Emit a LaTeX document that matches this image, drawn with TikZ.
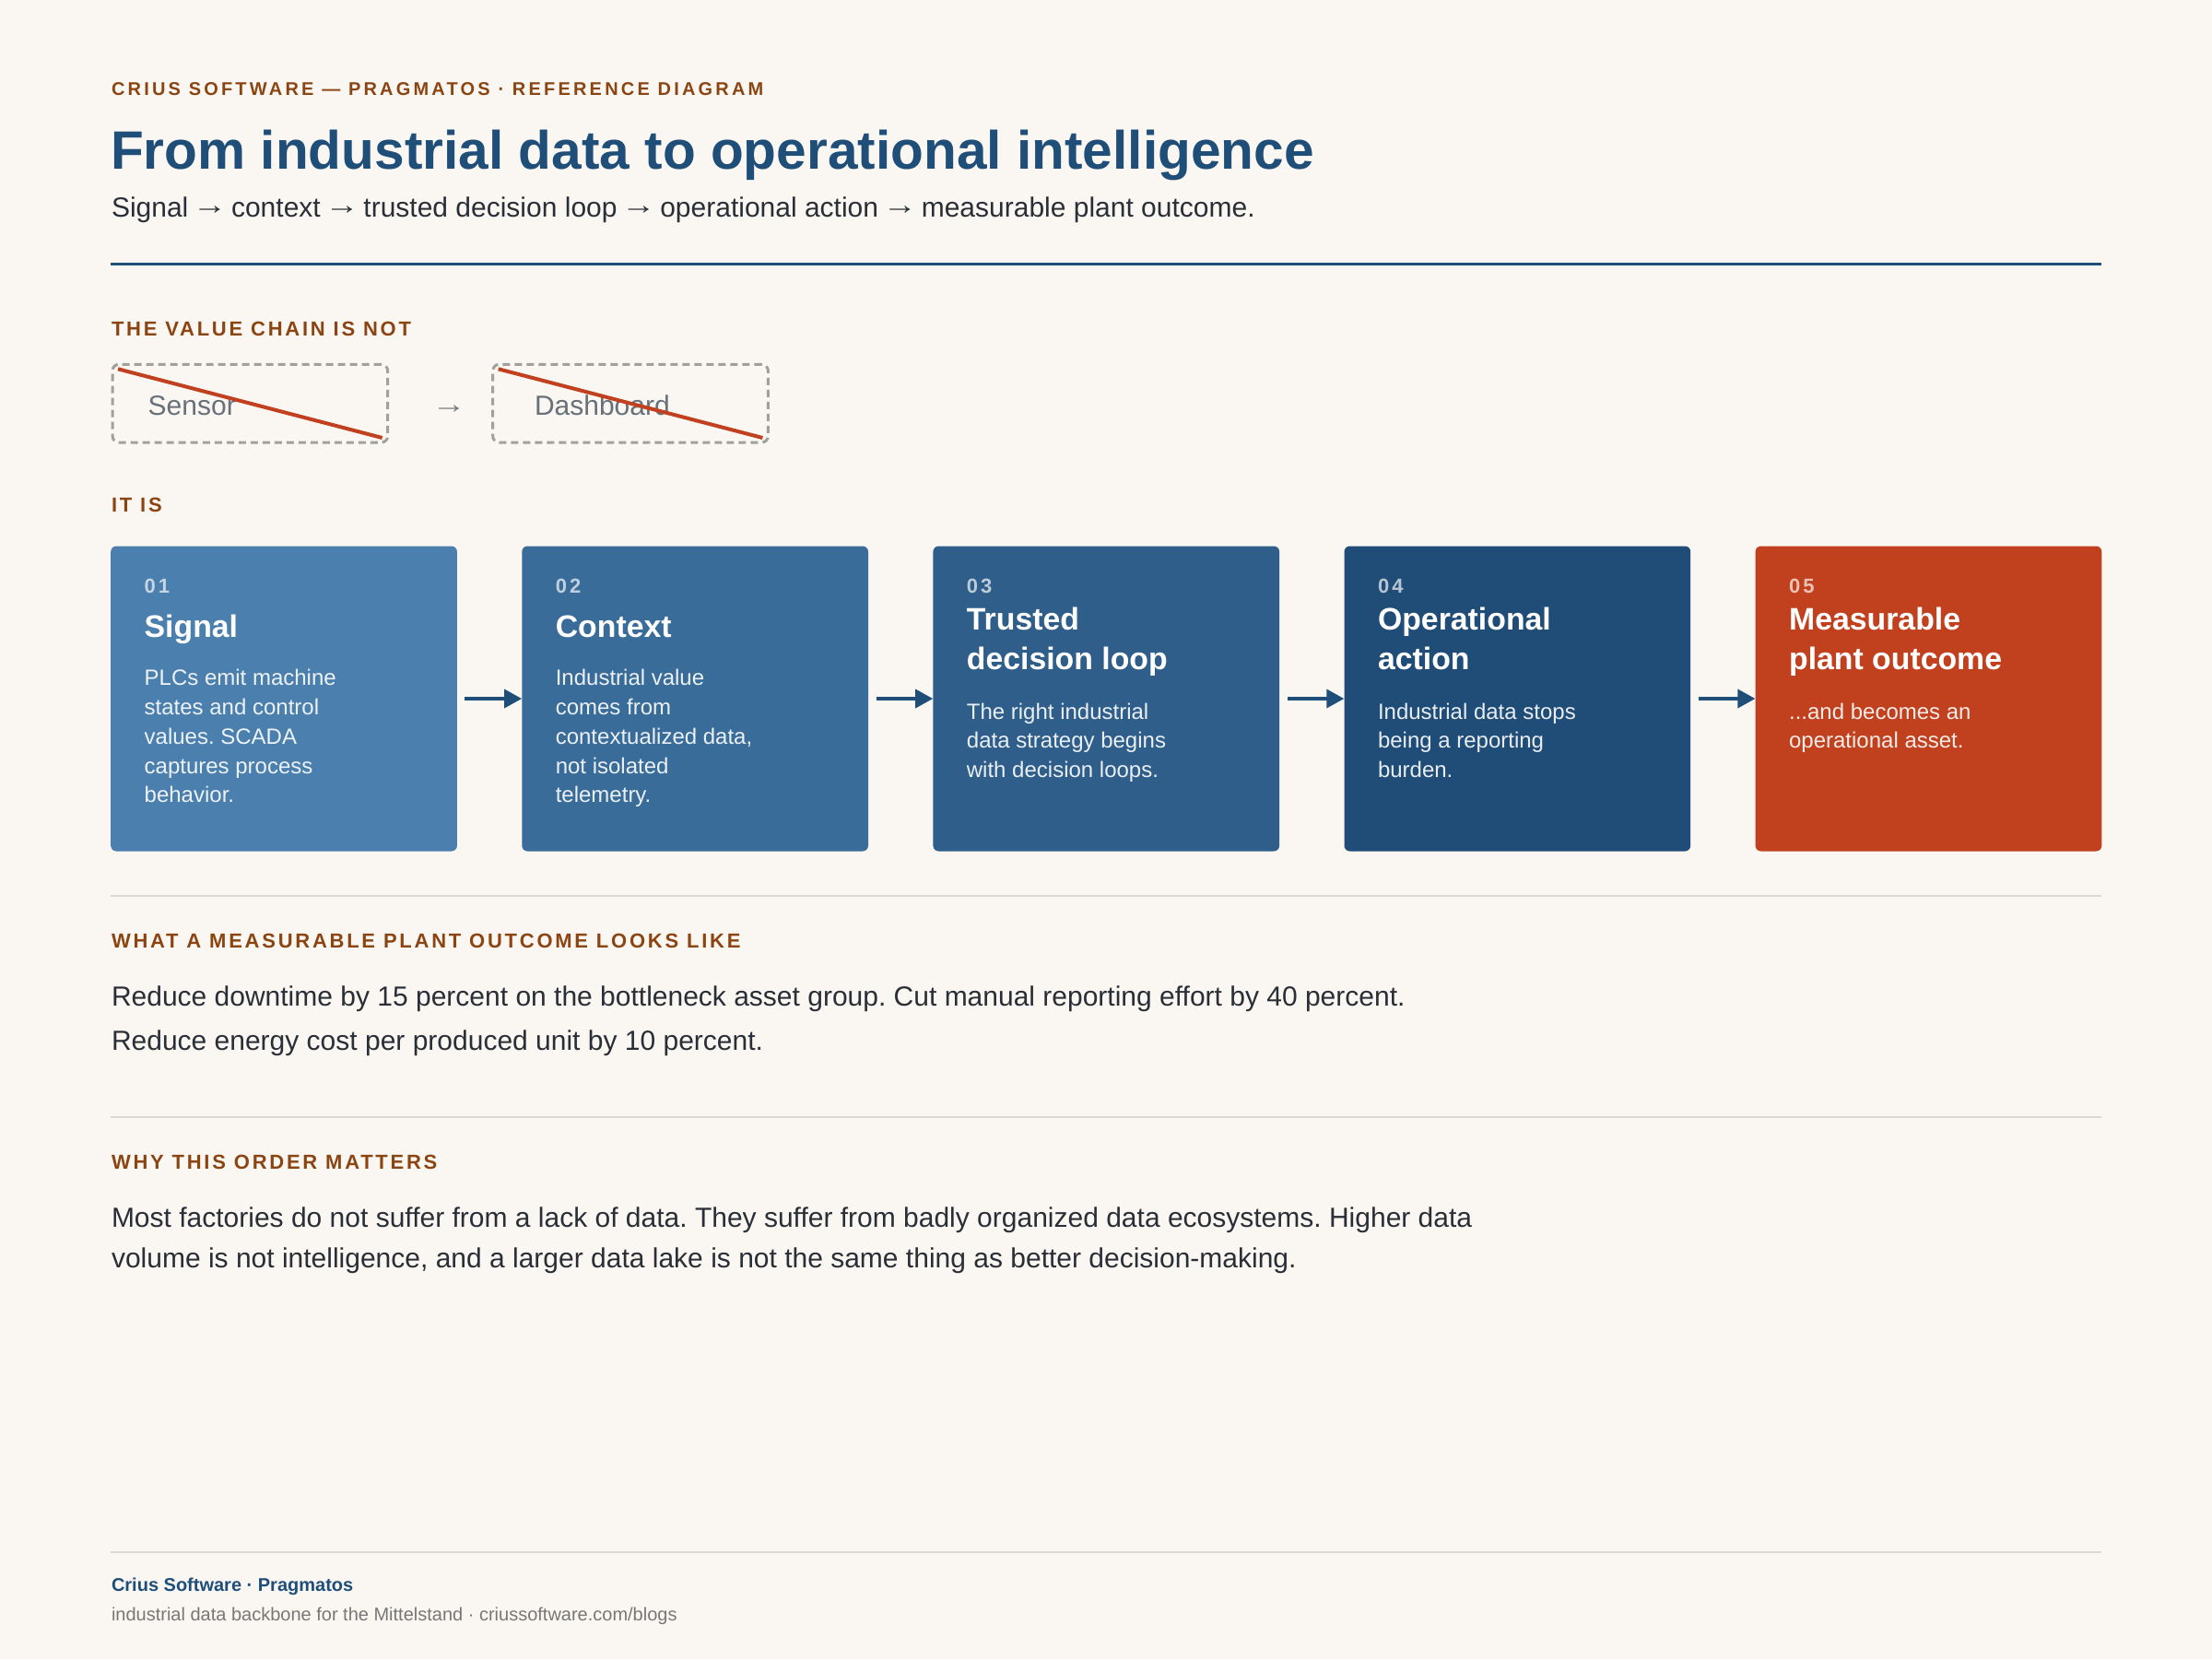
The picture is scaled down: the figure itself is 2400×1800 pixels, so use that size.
\documentclass[tikz,border=0pt]{standalone}
\usepackage{fontspec}
\usepackage{graphicx}
\setmainfont{Liberation Sans}
\newfontfamily\trackedA{Liberation Sans}[LetterSpace=16]
\newfontfamily\trackedB{Liberation Sans}[LetterSpace=12.5]
\newfontfamily\trackedC{Liberation Sans}[LetterSpace=14]
\usetikzlibrary{arrows.meta}
\definecolor{bg}{HTML}{FAF7F2}
\definecolor{navy}{HTML}{1F4E79}
\definecolor{brownlbl}{HTML}{8B4513}
\definecolor{ink}{HTML}{2A2E36}
\definecolor{muted}{HTML}{68707A}
\definecolor{arrgray}{HTML}{777B80}
\definecolor{footgray}{HTML}{777777}
\definecolor{dashgray}{HTML}{A2A09D}
\definecolor{strike}{HTML}{C0401F}
\definecolor{rulegray}{HTML}{DCD9D3}
\definecolor{cA}{HTML}{4B7FAD}
\definecolor{cB}{HTML}{3A6C9A}
\definecolor{cC}{HTML}{2E5E89}
\definecolor{cD}{HTML}{204D77}
\definecolor{cE}{HTML}{C1411F}
\newcommand\fTop{\trackedA\bfseries\fontsize{20}{24}\selectfont}
\newcommand\fSec{\trackedB\bfseries\fontsize{22}{26}\selectfont}
\newcommand\fNum{\trackedC\bfseries\fontsize{22}{26}\selectfont}
\newcommand\fTitle{\bfseries\fontsize{58.6}{70}\selectfont}
\newcommand\fSub{\fontsize{30}{36}\selectfont}
\newcommand\fBoxT{\bfseries\fontsize{33.8}{40}\selectfont}
\newcommand\fDesc{\fontsize{24}{30}\selectfont}
\newcommand\fFootA{\bfseries\fontsize{20}{24}\selectfont}
\newcommand\fFootB{\fontsize{20}{24}\selectfont}
\newcommand\rarr{\makebox[1em]{\raisebox{0.1em}{\scalebox{1.25}[1]{→}}}}
\frenchspacing
\begin{document}
\frenchspacing
\begin{tikzpicture}[x=1pt,y=-1pt,
  t/.style={anchor=base west,inner sep=0pt,outer sep=0pt},
  toplbl/.style={t,font=\fTop,text=brownlbl},
  seclbl/.style={t,font=\fSec,text=brownlbl},
  maintitle/.style={t,font=\fTitle,text=navy},
  subt/.style={t,font=\fSub,text=ink},
  body/.style={t,font=\fSub,text=ink},
  notbox/.style={anchor=north west,draw=dashgray,line width=3pt,dash pattern=on 8pt off 5pt,rounded corners=7pt,minimum width=298.7pt,minimum height=84.7pt,inner sep=0pt},
  nottext/.style={t,font=\fSub,text=muted},
  strikeline/.style={draw=strike,line width=4pt},
  stepcard/.style={anchor=north west,minimum width=375.7pt,minimum height=331pt,rounded corners=6pt,inner sep=0pt,draw=none},
  num/.style={t,font=\fNum,text=white,text opacity=0.68},
  ctitle/.style={t,font=\fBoxT,text=white},
  desc/.style={t,font=\fDesc,text=white,text opacity=0.9},
  flow/.style={draw=navy,line width=3.5pt,-{Triangle[length=19pt,width=20pt]}},
  rulethin/.style={draw=rulegray,line width=2pt},
  footA/.style={t,font=\fFootA,text=navy},
  footB/.style={t,font=\fFootB,text=footgray}]
\fill[bg] (0,0) rectangle (2400,1800);
\useasboundingbox (0,0) rectangle (2400,1800);

% header
\node[toplbl] (toplabel) at (121,103.5) {CRIUS SOFTWARE — PRAGMATOS · REFERENCE DIAGRAM};
\node[maintitle] (title) at (120,183.5) {From industrial data to operational intelligence};
\node[subt] (subtitle) at (121,235.7) {Signal \rarr{} context \rarr{} trusted decision loop \rarr{} operational action \rarr{} measurable plant outcome.};
\draw[navy,line width=3pt] (120,286) -- (2280,286);

% not chain
\node[seclbl] (notlbl) at (121,364) {THE VALUE CHAIN IS NOT};
\node[notbox] (s1) at (120.5,393.8) {};
\node[notbox] (s2) at (533.2,393.8) {};
\node[nottext] (sensor) at (160.7,450) {Sensor};
\node[nottext] (dashb) at (580,450) {Dashboard};
\node[t,font=\fSub,text=arrgray] (notarrow) at (472,451) {\rarr};
\draw[strikeline] ([shift={(7.5,6.5)}]s1.north west) -- ([shift={(-7.5,-6.5)}]s1.south east);
\draw[strikeline] ([shift={(7.5,6.5)}]s2.north west) -- ([shift={(-7.5,-6.5)}]s2.south east);

% it is
\node[seclbl] (islbl) at (121,555.5) {IT IS};
\node[stepcard,fill=cA] (b1) at (120,592.3) {};
\node[stepcard,fill=cB] (b2) at (566.1,592.3) {};
\node[stepcard,fill=cC] (b3) at (1012.2,592.3) {};
\node[stepcard,fill=cD] (b4) at (1458.3,592.3) {};
\node[stepcard,fill=cE] (b5) at (1904.4,592.3) {};
\draw[flow] ([xshift=8.3pt]b1.east) -- (b2.west);
\draw[flow] ([xshift=8.3pt]b2.east) -- (b3.west);
\draw[flow] ([xshift=8.3pt]b3.east) -- (b4.west);
\draw[flow] ([xshift=8.3pt]b4.east) -- (b5.west);

% card 1
\node[num] (n1) at (156.7,643.3) {01};
\node[ctitle] (t1) at (156.7,691.7) {Signal};
\node[desc] (d1a) at (156.7,743.3) {PLCs emit machine};
\node[desc] (d1b) at (156.7,775.2) {states and control};
\node[desc] (d1c) at (156.7,807.1) {values. SCADA};
\node[desc] (d1d) at (156.7,839.0) {captures process};
\node[desc] (d1e) at (156.7,870.9) {behavior.};
% card 2
\node[num] (n2) at (602.8,643.3) {02};
\node[ctitle] (t2) at (602.8,691.7) {Context};
\node[desc] (d2a) at (602.8,743.3) {Industrial value};
\node[desc] (d2b) at (602.8,775.2) {comes from};
\node[desc] (d2c) at (602.8,807.1) {contextualized data,};
\node[desc] (d2d) at (602.8,839.0) {not isolated};
\node[desc] (d2e) at (602.8,870.9) {telemetry.};
% card 3
\node[num] (n3) at (1048.9,643.3) {03};
\node[ctitle] (t3a) at (1048.9,683.3) {Trusted};
\node[ctitle] (t3b) at (1048.9,726.7) {decision loop};
\node[desc] (d3a) at (1048.9,780) {The right industrial};
\node[desc] (d3b) at (1048.9,811.9) {data strategy begins};
\node[desc] (d3c) at (1048.9,843.8) {with decision loops.};
% card 4
\node[num] (n4) at (1495,643.3) {04};
\node[ctitle] (t4a) at (1495,683.3) {Operational};
\node[ctitle] (t4b) at (1495,726.7) {action};
\node[desc] (d4a) at (1495,780) {Industrial data stops};
\node[desc] (d4b) at (1495,811.9) {being a reporting};
\node[desc] (d4c) at (1495,843.8) {burden.};
% card 5
\node[num] (n5) at (1941.1,643.3) {05};
\node[ctitle] (t5a) at (1941.1,683.3) {Measurable};
\node[ctitle] (t5b) at (1941.1,726.7) {plant outcome};
\node[desc] (d5a) at (1941.1,780) {...and becomes an};
\node[desc] (d5b) at (1941.1,811.9) {operational asset.};

% outcome section
\draw[rulethin] (120,971.7) -- (2280,971.7);
\node[seclbl] (outlbl) at (121,1028.3) {WHAT A MEASURABLE PLANT OUTCOME LOOKS LIKE};
\node[body] (o1) at (121,1091.7) {Reduce downtime by 15 percent on the bottleneck asset group. Cut manual reporting effort by 40 percent.};
\node[body] (o2) at (121,1139.3) {Reduce energy cost per produced unit by 10 percent.};

% order section
\draw[rulethin] (120,1211.7) -- (2280,1211.7);
\node[seclbl] (whylbl) at (121,1268.3) {WHY THIS ORDER MATTERS};
\node[body] (w1) at (121,1331.7) {Most factories do not suffer from a lack of data. They suffer from badly organized data ecosystems. Higher data};
\node[body] (w2) at (121,1375.7) {volume is not intelligence, and a larger data lake is not the same thing as better decision-making.};

% footer
\draw[rulethin] (120,1683.7) -- (2280,1683.7);
\node[footA] (f1) at (121,1726.6) {Crius Software · Pragmatos};
\node[footB] (f2) at (121,1758.8) {industrial data backbone for the Mittelstand · criussoftware.com/blogs};
\end{tikzpicture}
\end{document}
